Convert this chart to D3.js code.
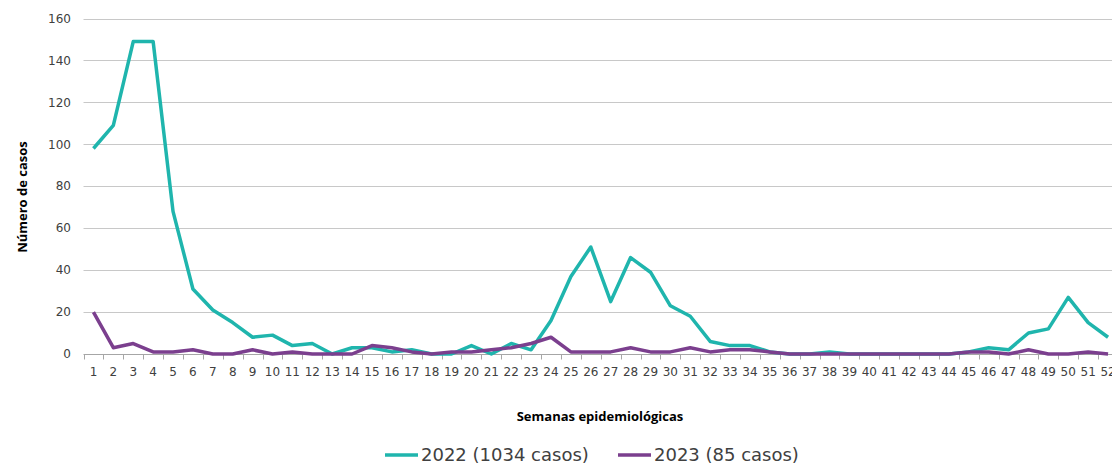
<!DOCTYPE html>
<html><head><meta charset="utf-8">
<script src="https://cdn.jsdelivr.net/npm/d3@7"></script>
<style>html,body{margin:0;padding:0;background:#fff;overflow:hidden}</style>
</head><body><svg id="c" width="1112" height="466"></svg>
<script>
const weeks = d3.range(1, 53);
const cases2022 = [98,109,149,149,68,31,21,15,8,9,4,5,0,3,3,1,2,0,0,4,0,5,2,16,37,51,25,46,39,23,18,6,4,4,1,0,0,1,0,0,0,0,0,0,1,3,2,10,12,27,15,8];
const cases2023 = [20,3,5,1,1,2,0,0,2,0,1,0,0,0,4,3,1,0,1,1,2,3,5,8,1,1,1,3,1,1,3,1,2,2,1,0,0,0,0,0,0,0,0,0,1,1,0,2,0,0,1,0];
const yTicks = [0,20,40,60,80,100,120,140,160];
const seriesNames = ["2022 (1034 casos)", "2023 (85 casos)"];
const seriesColors = ["#1fb5ad", "#7b3f8e"];
const xTitle = "Semanas epidemiológicas";
const yTitle = "Número de casos";

const svg = d3.select("#c");
const pLeft = 83.5, pRight = 1118, pTop = 18.5, pBottom = 354;
const x = d3.scaleBand().domain(weeks).range([pLeft, pRight]).padding(0);
const y = d3.scaleLinear().domain([0,160]).range([pBottom, pTop]);
const bw = x.bandwidth();

// gridlines
svg.append("g").selectAll("line").data(yTicks.filter(d=>d>0)).join("line")
  .attr("x1", pLeft).attr("x2", 1112)
  .attr("y1", d=>Math.round(y(d))+0.5).attr("y2", d=>Math.round(y(d))+0.5)
  .attr("stroke", "#c8c8c8").attr("stroke-width", 1);

// y labels
svg.append("g").selectAll("text").data(yTicks).join("text")
  .attr("x", 71).attr("y", d=>y(d)).attr("dy", "0.35em")
  .attr("text-anchor", "end")
  .attr("font-family", "DejaVu Sans").attr("font-size", 12).attr("fill", "#404040")
  .text(d=>d);

// x axis
const xAxis = svg.append("g").attr("transform", `translate(0,${Math.round(pBottom)+0.5})`);
xAxis.append("line").attr("x1", pLeft).attr("x2", 1112).attr("stroke", "#a6a6a6");
xAxis.selectAll("line.t").data(weeks.concat([53])).join("line").attr("class","t")
  .attr("x1", d=> Math.round(pLeft + (d-1)*bw)+0.5).attr("x2", d=> Math.round(pLeft + (d-1)*bw)+0.5)
  .attr("y1", 0).attr("y2", 5).attr("stroke", "#a6a6a6");
xAxis.selectAll("text").data(weeks).join("text")
  .attr("x", d=>x(d)+bw/2).attr("y", 21.5)
  .attr("text-anchor", "middle")
  .attr("font-family", "DejaVu Sans").attr("font-size", 12).attr("fill", "#404040")
  .text(d=>d);

// lines
const line = d3.line().x((d,i)=>x(weeks[i])+bw/2).y(d=>y(d));
[cases2022, cases2023].forEach((s,i)=>{
  svg.append("path").datum(s).attr("d", line)
    .attr("fill","none").attr("stroke", seriesColors[i]).attr("stroke-width", 3.5)
    .attr("stroke-linejoin","round");
});

// titles
svg.append("text").attr("x", 600).attr("y", 421).attr("text-anchor","middle")
  .attr("font-family","Open Sans").attr("font-weight","bold").attr("font-size",13).attr("fill","#000")
  .text(xTitle);
svg.append("text").attr("transform", `translate(27,197) rotate(-90)`)
  .attr("text-anchor","middle")
  .attr("font-family","Open Sans").attr("font-weight","bold").attr("font-size",13).attr("fill","#000")
  .text(yTitle);

// legend
const legX = [385, 618];
seriesNames.forEach((n,i)=>{
  const g = svg.append("g").attr("transform", `translate(${legX[i]},455)`);
  g.append("line").attr("x1",0).attr("x2",33).attr("stroke",seriesColors[i]).attr("stroke-width",3.5);
  g.append("text").attr("x",36).attr("dy","0.35em")
    .attr("font-family","DejaVu Sans").attr("font-size",18).attr("fill","#404040").text(n);
});
</script></body></html>
